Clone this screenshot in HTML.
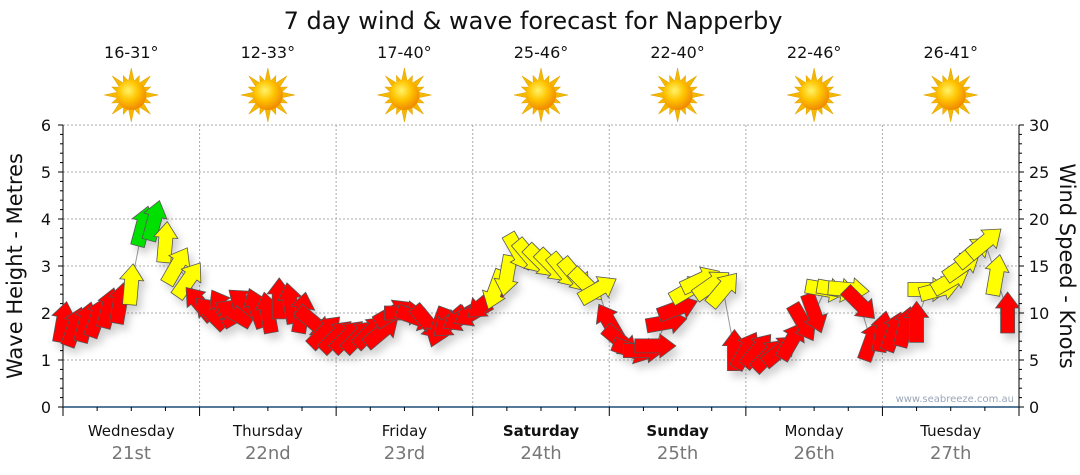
<!DOCTYPE html>
<html><head><meta charset="utf-8">
<style>
html,body{margin:0;padding:0;background:#fff;}
svg{display:block;font-family:"DejaVu Sans","Liberation Sans",sans-serif;}
</style></head>
<body>
<svg id="chart" width="1080" height="475" viewBox="0 0 1080 475" xmlns="http://www.w3.org/2000/svg">
<defs>
  <radialGradient id="sunG" cx="40%" cy="35%" r="65%">
    <stop offset="0" stop-color="#fff36a"/>
    <stop offset="0.5" stop-color="#ffc400"/>
    <stop offset="1" stop-color="#f08a00"/>
  </radialGradient>
  <filter id="shadow" x="-50%" y="-50%" width="200%" height="200%">
    <feDropShadow dx="4" dy="6" stdDeviation="4" flood-color="#000" flood-opacity="0.18"/>
  </filter>
</defs>
<text x="533" y="29" font-size="24" text-anchor="middle" fill="#111">7 day wind &amp; wave forecast for Napperby</text>
<g id="temps"></g>
<g id="grid"></g>
<g id="axes"></g>
<g id="line"></g>
<g id="arrows" filter="url(#shadow)"></g>
<text x="1014" y="402" font-size="10" text-anchor="end" fill="#9aa6b8">www.seabreeze.com.au</text>
<text transform="translate(22,266) rotate(-90)" font-size="21" text-anchor="middle" fill="#111">Wave Height - Metres</text>
<text transform="translate(1060,266) rotate(90)" font-size="21" text-anchor="middle" fill="#111">Wind Speed - Knots</text>
</svg>
<script>
const days = ["Wednesday","Thursday","Friday","Saturday","Sunday","Monday","Tuesday"];
const dates = ["21st","22nd","23rd","24th","25th","26th","27th"];
const boldDays = [false,false,false,true,true,false,false];
const temps = ["16-31°","12-33°","17-40°","25-46°","22-40°","22-46°","26-41°"];
const waveTicks = [0,1,2,3,4,5,6];
const windTicks = [0,5,10,15,20,25,30];
// wind every 2 hours starting Wednesday 00:00
const windKts = [
 9,8.5,9,9.5,10.5,11,13,19.2,19.8,17.5,15,13.5,
 11,10,10.5,10,11,10.5,10,11.5,11,10,9,8,
 7.5,7.5,7.5,8,8,10,10,9.5,9,8.5,9,9.5,
 10,11,12.5,14,16.5,16,15.5,15,14.5,14,13,12.5,
 9,7,6,6,6.5,9,10.5,12.5,13.5,13,12.5,6,
 6,6,5.5,6,7,9,10,12.5,12.5,12.5,11,7,
 8,8,8.5,9,12.5,12.5,13.5,15,16.5,17.5,14,10];
const windDir = [
 10,20,15,20,15,10,5,15,15,5,30,35,
 -40,-45,-30,-60,-50,-20,-10,0,-10,10,130,45,
 45,45,45,45,50,60,90,110,140,200,230,240,
 240,230,200,190,150,140,135,135,140,140,135,60,
 -30,130,110,90,90,80,70,60,65,55,40,0,
 30,40,45,50,30,150,160,100,100,95,135,20,
 10,20,15,0,90,75,60,55,50,50,10,0];

const NS="http://www.w3.org/2000/svg";
const X0=63,X1=1019,Y0=407,Y1=125,DAYW=(X1-X0)/7;
const xH=h=>X0+h*DAYW/24;
const yM=m=>Y0-m*(Y0-Y1)/6;
const yK=k=>Y0-k*(Y0-Y1)/30;
function mk(tag,attrs,parent){const e=document.createElementNS(NS,tag);for(const k in attrs)e.setAttribute(k,attrs[k]);parent.appendChild(e);return e;}
const grid=document.getElementById('grid'),axes=document.getElementById('axes'),tg=document.getElementById('temps');

waveTicks.forEach(m=>{ if(m>0){const l=mk('line',{x1:X0,x2:X1,y1:yM(m),y2:yM(m),stroke:'#aaa','stroke-dasharray':'2,2'},grid);

}});
for(let d=1;d<7;d++){const l=mk('line',{x1:X0+d*DAYW,x2:X0+d*DAYW,y1:Y1,y2:Y0,stroke:'#aaa','stroke-dasharray':'2,2'},grid);

}

mk('line',{x1:X0,x2:X0,y1:Y1,y2:Y0,stroke:'#000'},axes);
for(let i=0;i<=30;i++){const y=yM(i*0.2);mk('line',{x1:X0-(i%5==0?5:3),x2:X0,y1:y,y2:y,stroke:'#000'},axes);}
waveTicks.forEach(m=>{const t=mk('text',{x:X0-12,y:yM(m)+6,'font-size':16,'text-anchor':'end',fill:'#111'},axes);t.textContent=m;

});
mk('line',{x1:X1,x2:X1,y1:Y1,y2:Y0,stroke:'#000'},axes);
for(let i=0;i<=30;i++){const y=yK(i);mk('line',{x1:X1,x2:X1+(i%5==0?5:3),y1:y,y2:y,stroke:'#000'},axes);}
windTicks.forEach(k=>{const t=mk('text',{x:X1+10,y:yK(k)+6,'font-size':16,fill:'#111'},axes);t.textContent=k;

});
mk('line',{x1:X0,x2:X1,y1:Y0,y2:Y0,stroke:'#1f4e79','stroke-width':1.5},axes);
for(let h=0;h<=168;h+=6){const x=xH(h);mk('line',{x1:x,x2:x,y1:Y0,y2:Y0+(h%24==0?9:4),stroke:'#000'},axes);}
days.forEach((d,i)=>{const cx=X0+(i+0.5)*DAYW;
 const t=mk('text',{x:cx,y:436,'font-size':15,'text-anchor':'middle',fill:'#111','font-weight':boldDays[i]?'bold':'normal'},axes);t.textContent=d;
 
 
 const t2=mk('text',{x:cx,y:459,'font-size':18,'text-anchor':'middle',fill:'#777'},axes);t2.textContent=dates[i];
 
 
 const t3=mk('text',{x:cx,y:58,'font-size':16,'text-anchor':'middle',fill:'#111'},tg);t3.textContent=temps[i];
 
 
 const g=mk('g',{transform:`translate(${cx},95)`},tg);
 
 
 for(let a=0;a<16;a++){const L=a%2==0?27:21;mk('polygon',{points:`0,${-L} 3,-13 -3,-13`,fill:'#f5b800',stroke:'#e0a000','stroke-width':0.5,transform:`rotate(${a*22.5})`},g);}
 mk('circle',{r:15,fill:'url(#sunG)'},g);
});

const pts=windKts.map((k,i)=>`${xH(i*2)},${yK(k)}`).join(' ');
const pl=mk('polyline',{points:pts,fill:'none',stroke:'#999','stroke-width':1},document.getElementById('line'));



const ag=document.getElementById('arrows');
const shape="0,-21 12,-5 7,-5 7,20 -7,20 -7,-5 -12,-5";
windKts.forEach((k,i)=>{
 const col=k>=19?'#00e000':(k>=12?'#ffff00':'#ff0000');
 const p=mk('polygon',{points:shape,fill:col,stroke:'#555','stroke-width':0.8,transform:`translate(${xH(i*2)},${yK(k)}) rotate(${windDir[i]})`},ag);
 
 
});
</script>
</body></html>
